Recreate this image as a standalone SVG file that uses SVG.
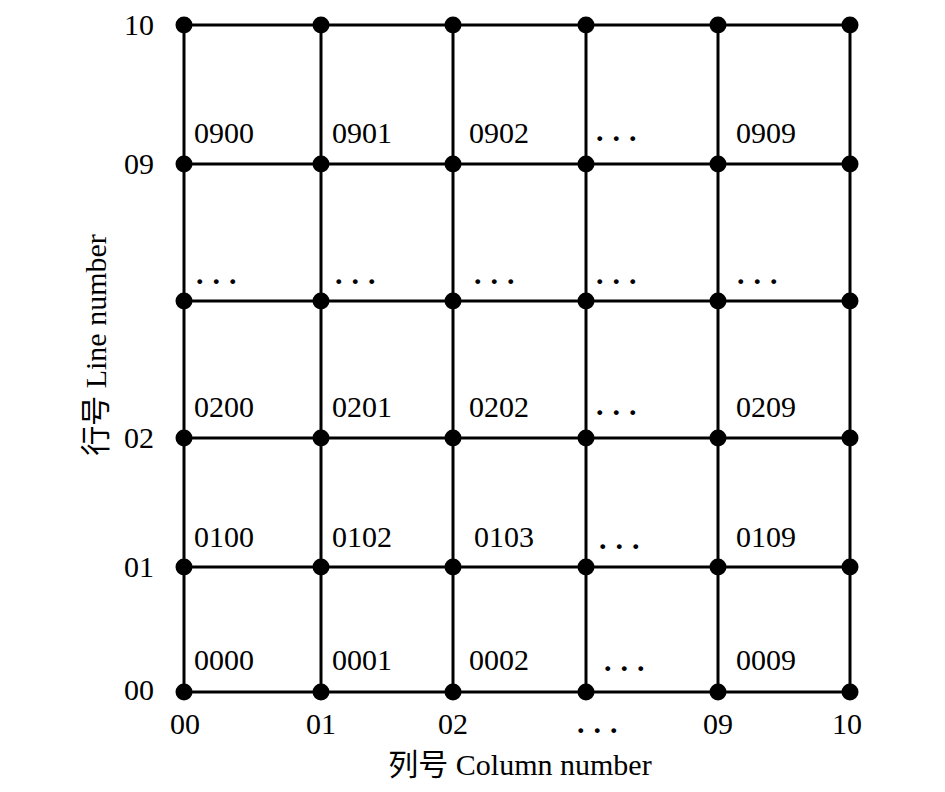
<svg xmlns="http://www.w3.org/2000/svg" width="945" height="792" viewBox="0 0 945 792">
<style>
.t{font-family:"Liberation Serif","Noto Sans CJK SC",serif;font-size:30px;fill:#000}
.ax{font-family:"Liberation Serif","Noto Sans CJK SC",serif;font-size:30px;fill:#000}
.e{font-family:"Liberation Serif",serif;font-size:30px;font-weight:bold;letter-spacing:9px;fill:#000}
.g{stroke:#000;stroke-width:3;fill:none}
.n{fill:#000}
</style>
<rect width="945" height="792" fill="#fff"/>
<g id="connectors" class="g">
<line x1="184" y1="25" x2="184" y2="692"/>
<line x1="321" y1="25" x2="321" y2="692"/>
<line x1="453" y1="25" x2="453" y2="692"/>
<line x1="586" y1="25" x2="586" y2="692"/>
<line x1="718" y1="25" x2="718" y2="692"/>
<line x1="850" y1="25" x2="850" y2="692"/>
<line x1="184" y1="25" x2="850" y2="25"/>
<line x1="184" y1="164" x2="850" y2="164"/>
<line x1="184" y1="301" x2="850" y2="301"/>
<line x1="184" y1="438" x2="850" y2="438"/>
<line x1="184" y1="567" x2="850" y2="567"/>
<line x1="184" y1="692" x2="850" y2="692"/>
</g>
<g id="nodes" class="n">
<circle cx="184" cy="25" r="8.5"/><circle cx="321" cy="25" r="8.5"/><circle cx="453" cy="25" r="8.5"/><circle cx="586" cy="25" r="8.5"/><circle cx="718" cy="25" r="8.5"/><circle cx="850" cy="25" r="8.5"/>
<circle cx="184" cy="164" r="8.5"/><circle cx="321" cy="164" r="8.5"/><circle cx="453" cy="164" r="8.5"/><circle cx="586" cy="164" r="8.5"/><circle cx="718" cy="164" r="8.5"/><circle cx="850" cy="164" r="8.5"/>
<circle cx="184" cy="301" r="8.5"/><circle cx="321" cy="301" r="8.5"/><circle cx="453" cy="301" r="8.5"/><circle cx="586" cy="301" r="8.5"/><circle cx="718" cy="301" r="8.5"/><circle cx="850" cy="301" r="8.5"/>
<circle cx="184" cy="438" r="8.5"/><circle cx="321" cy="438" r="8.5"/><circle cx="453" cy="438" r="8.5"/><circle cx="586" cy="438" r="8.5"/><circle cx="718" cy="438" r="8.5"/><circle cx="850" cy="438" r="8.5"/>
<circle cx="184" cy="567" r="8.5"/><circle cx="321" cy="567" r="8.5"/><circle cx="453" cy="567" r="8.5"/><circle cx="586" cy="567" r="8.5"/><circle cx="718" cy="567" r="8.5"/><circle cx="850" cy="567" r="8.5"/>
<circle cx="184" cy="692" r="8.5"/><circle cx="321" cy="692" r="8.5"/><circle cx="453" cy="692" r="8.5"/><circle cx="586" cy="692" r="8.5"/><circle cx="718" cy="692" r="8.5"/><circle cx="850" cy="692" r="8.5"/>
</g>
<g id="row-labels" class="t" text-anchor="end">
<text x="154" y="35">10</text>
<text x="154" y="174">09</text>
<text x="154" y="448">02</text>
<text x="154" y="577">01</text>
<text x="154" y="700">00</text>
</g>
<g id="col-labels" class="t" text-anchor="middle">
<text x="185" y="734">00</text>
<text x="321" y="734">01</text>
<text x="453" y="734">02</text>
<text x="718" y="734">09</text>
<text x="847" y="734">10</text>
</g>
<g id="cell-labels" class="t">
<text x="194" y="143">0900</text>
<text x="332" y="143">0901</text>
<text x="469" y="143">0902</text>
<text x="736" y="143">0909</text>
<text x="194" y="417">0200</text>
<text x="332" y="417">0201</text>
<text x="469" y="417">0202</text>
<text x="736" y="417">0209</text>
<text x="194" y="547">0100</text>
<text x="332" y="547">0102</text>
<text x="474" y="547">0103</text>
<text x="736" y="547">0109</text>
<text x="194" y="670">0000</text>
<text x="332" y="670">0001</text>
<text x="469" y="670">0002</text>
<text x="736" y="670">0009</text>
</g>
<g id="ellipses" class="e">
<text x="596" y="141">...</text>
<text x="196" y="284">...</text>
<text x="335" y="284">...</text>
<text x="474" y="284">...</text>
<text x="596" y="284">...</text>
<text x="737" y="284">...</text>
<text x="596" y="415">...</text>
<text x="599" y="549">...</text>
<text x="604" y="671">...</text>
<text x="577" y="733">...</text>
</g>
<g id="axis-titles" class="ax">
<text x="520" y="775" text-anchor="middle">列号 Column number</text>
<text transform="translate(106,345) rotate(-90)" text-anchor="middle">行号 Line number</text>
</g>
</svg>
